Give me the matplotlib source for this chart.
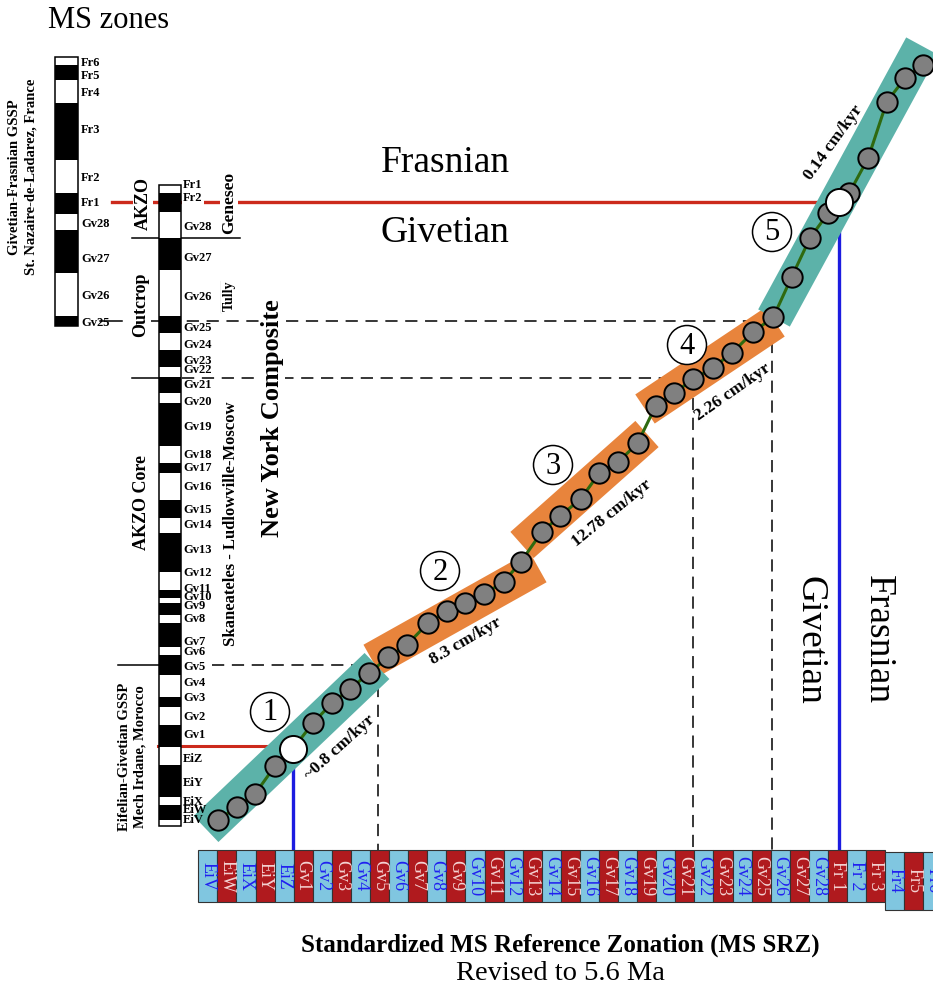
import matplotlib
matplotlib.use("Agg")
import matplotlib.pyplot as plt
from matplotlib.patches import Rectangle, Polygon, Circle
import numpy as np

plt.rcParams['font.family'] = ['Liberation Serif', 'DejaVu Serif']

# ---------------- data ----------------
# Standardized MS Reference Zonation (one cell per zone along the bottom)
srz_labels = ["EiV", "EiW", "EiX", "EiY", "EiZ",
              "Gv1", "Gv2", "Gv3", "Gv4", "Gv5", "Gv6", "Gv7", "Gv8", "Gv9", "Gv10",
              "Gv11", "Gv12", "Gv13", "Gv14", "Gv15", "Gv16", "Gv17", "Gv18", "Gv19", "Gv20",
              "Gv21", "Gv22", "Gv23", "Gv24", "Gv25", "Gv26", "Gv27", "Gv28",
              "Fr 1", "Fr 2", "Fr 3", "Fr4", "Fr5", "Fr6"]

# Correlated zone tops: x = position on the MS SRZ (zone units), y = composite level
seg1_x = [1.05, 2.01, 2.97, 4.02, 6.01, 7.01, 7.95, 8.96]
seg1_y = [820, 807, 794, 766, 723, 703, 689, 673]
seg2_x = [9.96, 10.92, 12.05, 13.02, 13.98, 14.98, 16.0, 16.9]
seg2_y = [657, 645, 623, 611, 603, 594, 582, 562]
seg3_x = [18.0, 18.96, 20.04, 21.02, 22.01, 23.03]
seg3_y = [532, 516, 499, 473, 462, 443]
seg4_x = [23.97, 24.95, 25.94, 26.96, 27.96, 29.09, 30.14]
seg4_y = [406, 393, 379, 368, 353, 332, 317]
seg5_x = [31.1, 32.06, 33.02, 34.12, 35.11, 36.08, 37.04, 38.0]
seg5_y = [277, 238, 213, 193, 158, 102, 78, 65]

# GSSP boundary ties (Eifelian-Givetian, Givetian-Frasnian)
gssp_x = [4.95, 33.6]
gssp_y = [749, 202]

rate_labels = ["~0.8 cm/kyr", "8.3 cm/kyr", "12.78 cm/kyr", "2.26 cm/kyr", "0.14 cm/kyr"]

# Givetian-Frasnian GSSP section (St. Nazaire-de-Ladarez)
gf_zones = ["Fr6", "Fr5", "Fr4", "Fr3", "Fr2", "Fr1", "Gv28", "Gv27", "Gv26", "Gv25"]
gf_tops = [57, 65, 80, 103, 160, 193, 214, 230, 273, 316]
gf_bases = [65, 80, 103, 160, 193, 214, 230, 273, 316, 326]
gf_label_y = [63, 76, 93, 130, 178, 203, 224, 259, 296, 323]

# New York composite
ny_zones = ["Fr1", "Fr2", "Gv28", "Gv27", "Gv26", "Gv25", "Gv24", "Gv23", "Gv22", "Gv21",
            "Gv20", "Gv19", "Gv18", "Gv17", "Gv16", "Gv15", "Gv14", "Gv13", "Gv12", "Gv11",
            "Gv10", "Gv9", "Gv8", "Gv7", "Gv6", "Gv5", "Gv4", "Gv3", "Gv2", "Gv1",
            "EiZ", "EiY", "EiX", "EiW", "EiV"]
ny_tops = [185, 193, 212, 238, 270, 316, 333, 350, 367, 377,
           393, 403, 446, 463, 473, 500, 518, 533, 572, 590,
           598, 603, 615, 623, 647, 655, 675, 697, 707, 725,
           747, 765, 797, 805, 820]
ny_bases = ny_tops[1:] + [826]
ny_label_y = [185, 198, 227, 258, 297, 328, 345, 361, 370, 385,
              402, 427, 455, 468, 487, 510, 525, 550, 573, 589,
              597, 606, 619, 642, 652, 667, 683, 698, 717, 735,
              759, 783, 802, 810, 820]

# ---------------- layout helpers ----------------
X0, CELL = 198.3, 19.08


def srz(x):
    return X0 + CELL * np.asarray(x, dtype=float)


fig = plt.figure(figsize=(9.33, 9.94), dpi=100)
ax = fig.add_axes([0, 0, 1, 1])
ax.set_xlim(0, 933)
ax.set_ylim(994, 0)
ax.axis('off')

TEAL = "#5cb2a9"
ORANGE = "#e8843c"
RED = "#cc2a1c"
BLUE = "#1c1ce0"
GREEN = "#2f6a10"
white_bg = dict(facecolor='white', edgecolor='none', pad=1.0)


def band(p0, p1, hw, color):
    p0 = np.array(p0, float)
    p1 = np.array(p1, float)
    d = (p1 - p0) / np.hypot(*(p1 - p0))
    n = np.array([-d[1], d[0]])
    pts = [p0 + n * hw, p1 + n * hw, p1 - n * hw, p0 - n * hw]
    ax.add_patch(Polygon(pts, closed=True, facecolor=color, edgecolor='none', zorder=2))


# ---------------- guide lines ----------------
dash = (0, (8, 5))
kw = dict(color='black', lw=1.1, linestyle=dash, zorder=1)
ax.plot([147, srz(30.07)], [321, 321], **kw)
ax.plot([182, srz(25.92)], [378, 378], **kw)
ax.plot([212, srz(9.42)], [665, 665], **kw)
ax.plot([srz(9.42)] * 2, [665, 850], **kw)
ax.plot([srz(25.92)] * 2, [378, 850], **kw)
ax.plot([srz(30.07)] * 2, [321, 850], **kw)

# solid ticks marking section boundaries
ax.plot([132, 240], [238, 238], color='black', lw=1.1, zorder=1)
ax.plot([132, 159], [378, 378], color='black', lw=1.1, zorder=1)
ax.plot([118, 159], [665, 665], color='black', lw=1.1, zorder=1)
ax.plot([100, 122], [321, 321], color='black', lw=1.1, zorder=1)
ax.plot([221, 221], [281, 312], color='black', lw=0.8, zorder=1)

# stage boundaries (red) and their projection onto the MS SRZ (blue)
ax.plot([112, srz(gssp_x[1])], [gssp_y[1], gssp_y[1]], color=RED, lw=2.4, zorder=1)
ax.plot([158, srz(gssp_x[0])], [746, 746], color=RED, lw=2.2, zorder=1)
ax.plot([srz(gssp_x[0])] * 2, [gssp_y[0], 850], color=BLUE, lw=2.4, zorder=1)
ax.plot([srz(gssp_x[1])] * 2, [gssp_y[1], 850], color=BLUE, lw=2.4, zorder=1)

# ---------------- rate bands ----------------
band((372, 660), (538, 567), 17.5, ORANGE)
band((522, 545), (647, 434), 17.5, ORANGE)
band((645, 409), (775, 322), 17.5, ORANGE)
band((206, 829), (377, 666), 18, TEAL)
band((774, 318), (922, 46), 18, TEAL)

# connecting line and zone-top points
all_x = seg1_x[:4] + [gssp_x[0]] + seg1_x[4:] + seg2_x + seg3_x + seg4_x + seg5_x[:3] + [gssp_x[1]] + seg5_x[3:]
all_y = seg1_y[:4] + [gssp_y[0]] + seg1_y[4:] + seg2_y + seg3_y + seg4_y + seg5_y[:3] + [gssp_y[1]] + seg5_y[3:]
ax.plot(srz(all_x), all_y, color=GREEN, lw=2.2, zorder=3, solid_capstyle='round')
for sx, sy in [(seg1_x, seg1_y), (seg2_x, seg2_y), (seg3_x, seg3_y), (seg4_x, seg4_y), (seg5_x, seg5_y)]:
    ax.scatter(srz(sx), sy, s=215, facecolor="#808080", edgecolor='black', linewidth=1.4, zorder=4)
ax.scatter(srz(gssp_x), gssp_y, s=380, facecolor='white', edgecolor='black', linewidth=1.4, zorder=5)

# segment numbers
for k, (cx, cy) in enumerate([(270, 712), (440, 571), (553, 465), (687, 345), (772, 232)]):
    ax.add_patch(Circle((cx, cy), 19.5, facecolor='white', edgecolor='black', lw=1.1, zorder=5))
    ax.text(cx, cy + 1, str(k + 1), fontsize=22, ha='center', va='center', zorder=6)

# accumulation rates
rate_pos = [(340, 747, 42), (466, 641, 30), (612, 513, 39), (733, 392, 35), (833, 143, 54)]
for lab, (tx, ty, rot) in zip(rate_labels, rate_pos):
    ax.text(tx, ty, lab, fontsize=12.5, fontweight='bold', rotation=rot,
            rotation_mode='anchor', ha='center', va='center', zorder=6)

# ---------------- stage names ----------------
ax.text(445, 163, "Frasnian", fontsize=27, ha='center', va='center', zorder=6)
ax.text(445, 233, "Givetian", fontsize=27, ha='center', va='center', zorder=6)
ax.text(810, 640, "Givetian", fontsize=27, rotation=270, ha='center', va='center', zorder=6)
ax.text(878, 640, "Frasnian", fontsize=27, rotation=270, ha='center', va='center', zorder=6)

# ---------------- left columns ----------------
ax.text(48, 20, "MS zones", fontsize=22, ha='left', va='center')

for top, base, i in zip(gf_tops, gf_bases, range(len(gf_zones))):
    fc = 'white' if i % 2 == 0 else 'black'
    ax.add_patch(Rectangle((55, top), 23, base - top, facecolor=fc, edgecolor='none', zorder=3))
ax.add_patch(Rectangle((55, gf_tops[0]), 23, gf_bases[-1] - gf_tops[0], facecolor='none',
                       edgecolor='black', lw=1.1, zorder=3))
for lab, ly in zip(gf_zones, gf_label_y):
    ax.text(81, ly, lab, fontsize=9, fontweight='bold', ha='left', va='center', zorder=6)
ax.text(23, 177, "Givetian-Frasnian GSSP\nSt. Nazaire-de-Ladarez, France", fontsize=10.5,
        fontweight='bold', rotation=90, ha='center', va='center', linespacing=1.4, multialignment='center')

for top, base, i in zip(ny_tops, ny_bases, range(len(ny_zones))):
    fc = 'white' if i % 2 == 0 else 'black'
    ax.add_patch(Rectangle((159, top), 22, base - top, facecolor=fc, edgecolor='none', zorder=3))
ax.add_patch(Rectangle((159, ny_tops[0]), 22, ny_bases[-1] - ny_tops[0], facecolor='none',
                       edgecolor='black', lw=1.1, zorder=3))
for lab, ly in zip(ny_zones, ny_label_y):
    ax.text(183, ly, lab, fontsize=9, fontweight='bold', ha='left', va='center', zorder=6,
            bbox=white_bg if lab == "Fr2" else None)

bold_v = dict(fontweight='bold', rotation=90, ha='center', va='center', zorder=6, bbox=white_bg)
ax.text(143, 203, "AKZO", fontsize=13, **bold_v)
ax.text(229, 203, "Geneseo", fontsize=12.5, **bold_v)
ax.text(141, 305, "Outcrop", fontsize=13, **bold_v)
ax.text(229, 296, "Tully", fontsize=10, **bold_v)
ax.text(142, 503, "AKZO Core", fontsize=13, **bold_v)
ax.text(231, 524, "Skaneateles - Ludlowville-Moscow", fontsize=12, **bold_v)
ax.text(272, 418, "New York Composite", fontsize=19, **bold_v)
ax.text(132, 757, "Eifelian-Givetian GSSP\nMech Irdane, Morocco", fontsize=10.5, fontweight='bold',
        rotation=90, ha='center', va='center', linespacing=1.3, multialignment='center', zorder=6)

# ---------------- MS SRZ bar ----------------
for i, lab in enumerate(srz_labels):
    blue_cell = (i % 2 == 0)
    fc = "#80c6e0" if blue_cell else "#b01a1e"
    tc = "#2020f0" if blue_cell else "#f4d2d2"
    top, h = (850, 52) if i < 36 else (852, 58)
    x = srz(i)
    ax.add_patch(Rectangle((x, top), CELL, h, facecolor=fc, edgecolor='#333333', lw=0.8, zorder=3))
    ax.text(x + CELL / 2, top + h / 2, lab, fontsize=13, rotation=270, color=tc,
            ha='center', va='center', zorder=6, clip_on=True)

ax.text(560, 945, "Standardized MS Reference Zonation (MS SRZ)", fontsize=18, fontweight='bold',
        ha='center', va='center')
ax.text(560, 974, "Revised to 5.6 Ma", fontsize=20.5, ha='center', va='center')

fig.savefig("out.png", dpi=100)
